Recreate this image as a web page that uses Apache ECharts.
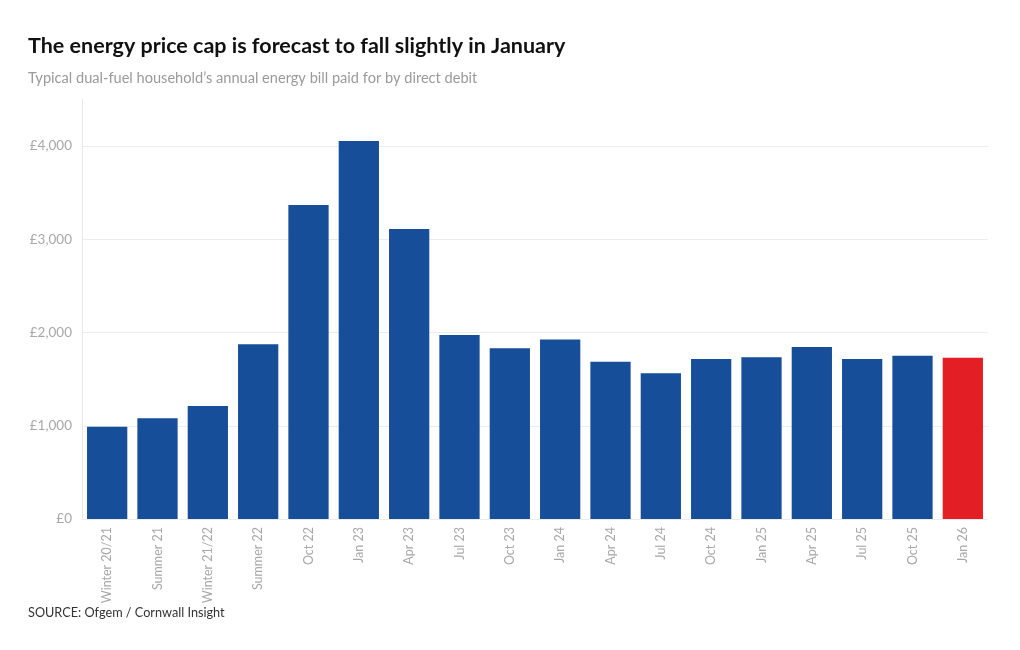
<!DOCTYPE html>
<html>
<head>
<meta charset="utf-8">
<script src="https://cdn.jsdelivr.net/npm/echarts@6/dist/echarts.min.js"></script>
<style>
html,body{margin:0;padding:0;background:#fff;}
#c{width:1020px;height:650px;}
</style>
</head>
<body>
<div id="c"></div>
<script>
const categories = ["Winter 20/21","Summer 21","Winter 21/22","Summer 22","Oct 22","Jan 23","Apr 23","Jul 23","Oct 23","Jan 24","Apr 24","Jul 24","Oct 24","Jan 25","Apr 25","Jul 25","Oct 25","Jan 26"];
const values = [990,1080,1212,1873,3367,4054,3110,1973,1830,1924,1686,1564,1715,1736,1845,1716,1752,1730];
const forecastIndex = 17;
const yTicks = [0,1000,2000,3000,4000];

const FONT = "Lato, 'Open Sans', sans-serif";
const chart = echarts.init(document.getElementById('c'), null, {renderer:'canvas'});
chart.setOption({
  backgroundColor:'#fff',
  animation:false,
  title:[
    {text:'The energy price cap is forecast to fall slightly in January', left:23, top:30,
     textStyle:{fontFamily:FONT, fontSize:21.5, fontWeight:'bold', color:'#111'}},
    {text:'Typical dual-fuel household\u2019s annual energy bill paid for by direct debit', left:23, top:66,
     textStyle:{fontFamily:FONT, fontSize:14.6, fontWeight:'normal', color:'#9a9a9a'}},
    {text:'SOURCE: Ofgem / Cornwall Insight', left:23, top:601,
     textStyle:{fontFamily:FONT, fontSize:12.7, fontWeight:'normal', color:'#333'}}
  ],
  grid:{left:82, right:32, top:99.4, bottom:131, containLabel:false},
  xAxis:{
    type:'category', data:categories,
    axisLine:{show:false}, axisTick:{show:false},
    axisLabel:{rotate:90, color:'#a8a8a8', fontFamily:FONT, fontSize:12.5, margin:8}
  },
  yAxis:{
    type:'value', min:0, max:4500, interval:1000,
    axisLine:{show:true, lineStyle:{color:'#e8e8e8'}},
    axisTick:{show:false},
    splitLine:{show:true, showMaxLine:false, lineStyle:{color:'#ececec'}},
    axisLabel:{showMaxLabel:false, color:'#a8a8a8', fontFamily:FONT, fontSize:13.5, margin:10,
      formatter:v => yTicks.includes(v) ? '\u00a3' + v.toLocaleString('en-GB') : ''}
  },
  series:[{
    type:'bar', barCategoryGap:'20%',
    data: values.map((v,i)=>({value:v, itemStyle:{color: i===forecastIndex ? '#e31e24' : '#174e99'}}))
  }]
});
</script>
</body>
</html>
